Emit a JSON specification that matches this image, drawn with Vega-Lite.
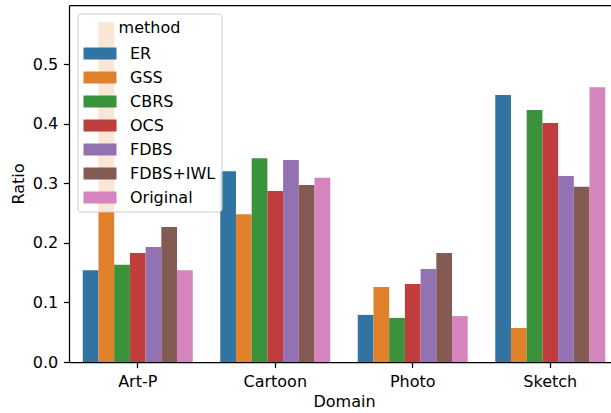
{
  "$schema": "https://vega.github.io/schema/vega-lite/v6.json",
  "autosize": {"type": "none"},
  "padding": {"left": 69, "top": 5, "right": 0, "bottom": 51},
  "width": 542,
  "height": 357,
  "config": {
    "font": "DejaVu Sans",
    "view": {"stroke": null},
    "axis": {
      "labelFontSize": 16,
      "titleFontSize": 16,
      "titleFontWeight": "normal",
      "labelColor": "black",
      "titleColor": "black",
      "tickColor": "black",
      "tickSize": 5.6,
      "tickWidth": 1.25,
      "domainColor": "black",
      "domainWidth": 1.25,
      "labelPadding": 5.6,
      "grid": false
    }
  },
  "data": {
    "values": [
      {"Domain": "Art-P", "method": "ER", "Ratio": 0.154},
      {"Domain": "Art-P", "method": "GSS", "Ratio": 0.570},
      {"Domain": "Art-P", "method": "CBRS", "Ratio": 0.163},
      {"Domain": "Art-P", "method": "OCS", "Ratio": 0.183},
      {"Domain": "Art-P", "method": "FDBS", "Ratio": 0.193},
      {"Domain": "Art-P", "method": "FDBS+IWL", "Ratio": 0.2265},
      {"Domain": "Art-P", "method": "Original", "Ratio": 0.154},
      {"Domain": "Cartoon", "method": "ER", "Ratio": 0.320},
      {"Domain": "Cartoon", "method": "GSS", "Ratio": 0.248},
      {"Domain": "Cartoon", "method": "CBRS", "Ratio": 0.342},
      {"Domain": "Cartoon", "method": "OCS", "Ratio": 0.287},
      {"Domain": "Cartoon", "method": "FDBS", "Ratio": 0.339},
      {"Domain": "Cartoon", "method": "FDBS+IWL", "Ratio": 0.297},
      {"Domain": "Cartoon", "method": "Original", "Ratio": 0.309},
      {"Domain": "Photo", "method": "ER", "Ratio": 0.079},
      {"Domain": "Photo", "method": "GSS", "Ratio": 0.126},
      {"Domain": "Photo", "method": "CBRS", "Ratio": 0.074},
      {"Domain": "Photo", "method": "OCS", "Ratio": 0.131},
      {"Domain": "Photo", "method": "FDBS", "Ratio": 0.156},
      {"Domain": "Photo", "method": "FDBS+IWL", "Ratio": 0.183},
      {"Domain": "Photo", "method": "Original", "Ratio": 0.077},
      {"Domain": "Sketch", "method": "ER", "Ratio": 0.448},
      {"Domain": "Sketch", "method": "GSS", "Ratio": 0.057},
      {"Domain": "Sketch", "method": "CBRS", "Ratio": 0.423},
      {"Domain": "Sketch", "method": "OCS", "Ratio": 0.401},
      {"Domain": "Sketch", "method": "FDBS", "Ratio": 0.312},
      {"Domain": "Sketch", "method": "FDBS+IWL", "Ratio": 0.294},
      {"Domain": "Sketch", "method": "Original", "Ratio": 0.461}
    ]
  },
  "layer": [
    {
      "mark": {"type": "bar"},
      "encoding": {
        "x": {
          "field": "Domain", "type": "nominal",
          "sort": ["Art-P", "Cartoon", "Photo", "Sketch"],
          "scale": {"type": "band", "range": [0, 550], "paddingInner": 0.2, "paddingOuter": 0.1},
          "axis": {"labelAngle": 0, "title": "Domain", "titlePadding": 4, "orient": "bottom"}
        },
        "xOffset": {
          "field": "method", "type": "nominal",
          "sort": ["ER", "GSS", "CBRS", "OCS", "FDBS", "FDBS+IWL", "Original"],
          "scale": {"paddingInner": 0, "paddingOuter": 0}
        },
        "y": {
          "field": "Ratio", "type": "quantitative",
          "scale": {"domain": [0, 0.599], "nice": false},
          "axis": {"values": [0, 0.1, 0.2, 0.3, 0.4, 0.5], "format": ".1f", "title": "Ratio", "titlePadding": 6}
        },
        "color": {
          "field": "method", "type": "nominal",
          "scale": {
            "domain": ["ER", "GSS", "CBRS", "OCS", "FDBS", "FDBS+IWL", "Original"],
            "range": ["#3274a1", "#e1812c", "#3a923a", "#c03d3e", "#9372b2", "#845b53", "#d684bd"]
          },
          "legend": {
            "orient": "none", "legendX": 8.5, "legendY": 8.5,
            "title": "method", "titleFontSize": 16, "titleFontWeight": "normal", "titleColor": "black",
            "titleAnchor": "middle", "titlePadding": 6,
            "labelFontSize": 16, "labelColor": "black",
            "fillColor": "rgba(255,255,255,0.8)", "strokeColor": "#cccccc", "cornerRadius": 3,
            "padding": 6, "rowPadding": 4,
            "symbolType": "M-1.375,-0.5H1.375V0.5H-1.375Z", "symbolSize": 576,
            "symbolStrokeWidth": 0, "symbolOpacity": 1, "symbolOffset": 4.5, "labelOffset": 18,
            "zindex": 1
          }
        }
      }
    },
    {
      "mark": {"type": "bar", "opacity": 0},
      "encoding": {
        "x": {
          "field": "Domain", "type": "nominal",
          "sort": ["Art-P", "Cartoon", "Photo", "Sketch"],
          "scale": {"type": "band", "range": [0, 550], "paddingInner": 0.2, "paddingOuter": 0.1},
          "axis": {"orient": "top", "labels": false, "ticks": false, "title": null, "domain": true}
        },
        "y": {
          "field": "Ratio", "type": "quantitative", "stack": null,
          "scale": {"domain": [0, 0.599], "nice": false},
          "axis": {"values": [0, 0.1, 0.2, 0.3, 0.4, 0.5], "format": ".1f", "title": "Ratio", "titlePadding": 6}
        }
      }
    }
  ],
  "resolve": {"axis": {"x": "independent"}}
}
